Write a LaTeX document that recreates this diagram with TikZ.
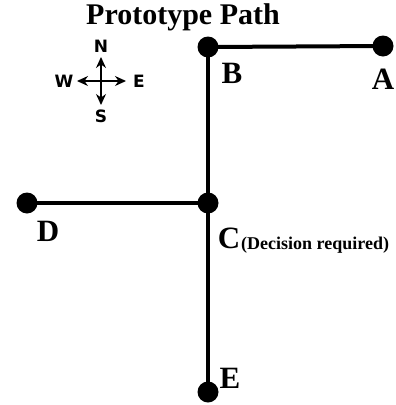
\documentclass[tikz,border=0pt]{standalone}
\usepackage{fontspec}
\setmainfont{Liberation Serif}
\newfontfamily\compassfont{DejaVu Sans}
\usetikzlibrary{arrows.meta}
\begin{document}
\begin{tikzpicture}[x=1pt,y=-1pt,
  pathline/.style={line width=4pt},
  dot/.style={circle,fill=black,inner sep=0pt,minimum size=21pt},
  lbl/.style={font=\fontsize{31}{31}\selectfont\bfseries,inner sep=0pt},
  clbl/.style={font=\compassfont\fontsize{17}{17}\selectfont\bfseries,inner sep=0pt},
  carrow/.style={line width=1.3pt,-{Stealth[length=11pt,width=10pt]}}]
\useasboundingbox (0,0) rectangle (396,405);
\node[font=\fontsize{30}{30}\selectfont\bfseries,inner sep=0pt] (title) at (183,17) {Prototype Path};
\node[dot] (B) at (208,47) {};
\node[dot] (A) at (383,46) {};
\node[dot] (C) at (208,203) {};
\node[dot] (D) at (27,203) {};
\node[dot] (E) at (208,392) {};
\draw[pathline] (B.center) -- (A.center);
\draw[pathline] (B.center) -- (E.center);
\draw[pathline] (D.center) -- (C.center);
\node[lbl] (lB) at (232,73) {B};
\node[lbl] (lA) at (383,79) {A};
\node[lbl] (lD) at (48,231) {D};
\node[lbl] (lE) at (230,378) {E};
\node[lbl] (lC) at (229,238) {C};
\node[font=\fontsize{18}{18}\selectfont\bfseries,inner sep=0pt,anchor=west] (dec) at (241,245) {(Decision required)};
% compass
\coordinate (cc) at (101,81);
\coordinate (cn) at (101,57);
\coordinate (cs) at (101,105);
\coordinate (cw) at (77,81);
\coordinate (ce) at (126,81);
\draw[carrow] (cc) -- (cn);
\draw[carrow] (cc) -- (cs);
\draw[carrow] (cc) -- (cw);
\draw[carrow] (cc) -- (ce);
\node[clbl] (N) at (101,46) {N};
\node[clbl] (S) at (101,116) {S};
\node[clbl] (W) at (64,81) {W};
\node[clbl] (Ec) at (139,81) {E};
\end{tikzpicture}
\end{document}
